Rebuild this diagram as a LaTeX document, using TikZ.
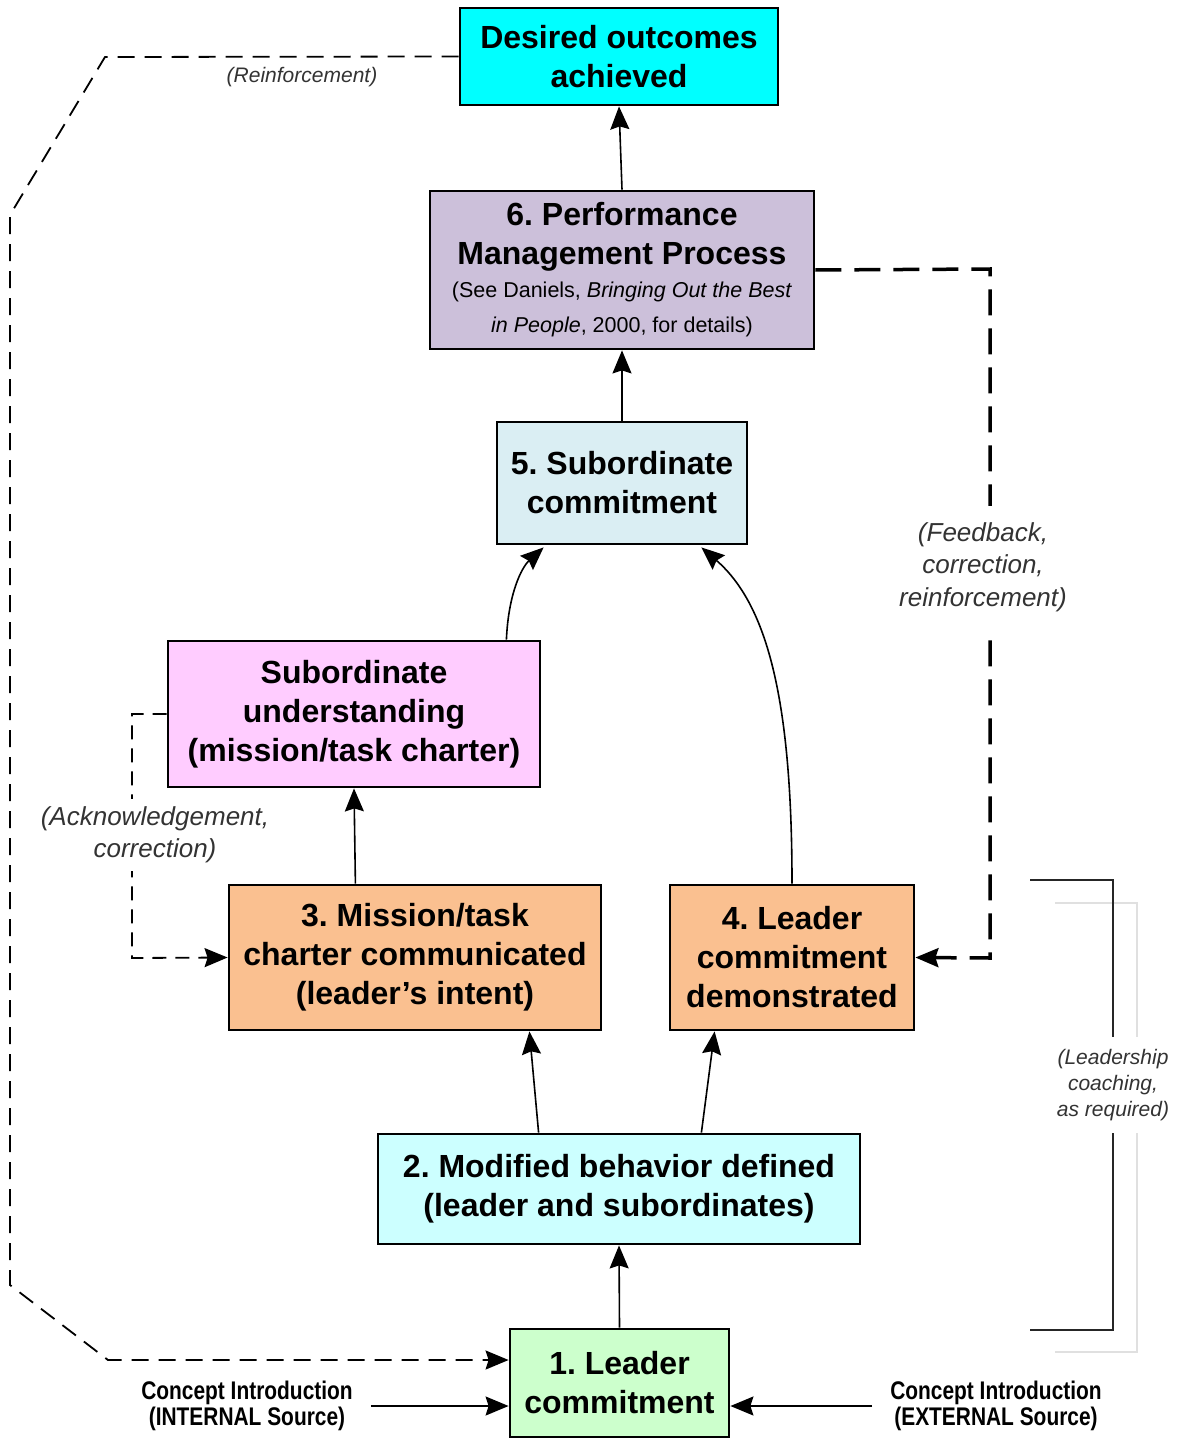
\documentclass[tikz,border=0pt]{standalone}
\usepackage{fontspec}
\setmainfont{Liberation Sans}
\newfontfamily\narrowfont[FakeStretch=0.82]{Liberation Sans}
\usetikzlibrary{arrows.meta,calc}
\definecolor{cdes}{HTML}{00FFFF}
\definecolor{csix}{HTML}{CCC0DA}
\definecolor{cfive}{HTML}{DAEEF3}
\definecolor{cund}{HTML}{FFCCFF}
\definecolor{cpeach}{HTML}{FAC090}
\definecolor{ctwo}{HTML}{CCFFFF}
\definecolor{cone}{HTML}{CCFFCC}
\frenchspacing
\begin{document}
\begin{tikzpicture}[x=1pt,y=-1pt,
  box/.style={draw=black,line width=2.8pt,inner sep=0pt,align=center,
    font=\fontsize{32}{39}\selectfont\bfseries},
  tip/.style={-{Stealth[length=23pt,width=19pt,inset=3pt]}},
  arr/.style={line width=1.6pt,tip},
  lab/.style={font=\fontsize{26}{32.5}\selectfont\itshape,align=center,text=black!80,fill=white,inner sep=2pt},
  dsh/.style={line width=1.8pt,dash pattern=on 17pt off 10pt},
  cintro/.style={font=\narrowfont\fontsize{25.5}{26}\selectfont\bfseries,align=center,inner xsep=18pt},
]
\useasboundingbox (0,0) rectangle (1178,1439);

% boxes
\node[box,fill=cdes,minimum width=318pt,minimum height=97pt] (des) at (619,56.5) {Desired outcomes\\achieved};
\node[box,fill=csix,minimum width=384pt,minimum height=158pt] (six) at (622,270)
  {6. Performance\\Management Process\\[-6pt]
   \fontsize{21.5}{35}\selectfont\mdseries (See Daniels, \textit{Bringing Out the Best}\\[-4pt]
   \fontsize{21.5}{35}\selectfont\mdseries\textit{in People}, 2000, for details)};
\node[box,fill=cfive,minimum width=250pt,minimum height=122pt] (five) at (622,483) {5. Subordinate\\commitment};
\node[box,fill=cund,minimum width=372pt,minimum height=146pt] (und) at (354,714) {Subordinate\\understanding\\(mission/task charter)};
\node[box,fill=cpeach,minimum width=372pt,minimum height=145pt] (three) at (415,957.5) {3. Mission/task\\charter communicated\\(leader’s intent)};
\node[box,fill=cpeach,minimum width=244pt,minimum height=145pt] (four) at (792,957.5) {4. Leader\\commitment\\demonstrated};
\node[box,fill=ctwo,minimum width=482pt,minimum height=110pt] (two) at (619,1189) {2. Modified behavior defined\\(leader and subordinates)};
\node[box,fill=cone,minimum width=219pt,minimum height=108pt] (one) at (619.5,1383) {1. Leader\\commitment};

% concept introduction texts
\node[cintro] (intl) at (247,1406) {Concept Introduction\\(INTERNAL Source)};
\node[cintro] (extl) at (996,1406) {Concept Introduction\\(EXTERNAL Source)};

% solid arrows
\draw[arr] (six.north) -- (des.south);
\draw[arr] (five.north) -- (six.south);
\draw[arr] ([xshift=-35pt]und.north east) .. controls ([xshift=-33pt,yshift=46pt]und.north east) and ([xshift=26pt,yshift=-22pt]five.south west) .. ([xshift=48pt,yshift=-2pt]five.south west);
\draw[arr] (four.north) .. controls ([yshift=180pt]four.north) and ([xshift=20pt,yshift=-60pt]five.south east) .. ([xshift=-47pt,yshift=-2pt]five.south east);
\draw[arr] ([xshift=-247pt]three.north east) -- (und.south);
\draw[arr] ([xshift=162pt]two.north west) -- ([xshift=-73pt]three.south east);
\draw[arr] ([xshift=-160pt]two.north east) -- ([xshift=46pt]four.south west);
\draw[arr] (one.north) -- (two.south);
\draw[arr] (intl.east) -- (intl.east -| one.west);
\draw[arr] (extl.west) -- (extl.west -| one.east);

% reinforcement loop
\coordinate (r1) at (105,57);
\coordinate (r2) at (10,215);
\coordinate (r3) at (10,1285);
\coordinate (r4) at (108,1360);
\draw[dsh,tip] (des.west) -- (r1) -- (r2) -- (r3) -- (r4) -- ([yshift=23pt]one.west);
\node[font=\fontsize{21}{24}\selectfont\itshape,text=black!80] (rlab) at (302,77) {(Reinforcement)};

% feedback loop
\coordinate (f1) at (990,269);
\coordinate (f2) at (990,958);
\draw[line width=3.5pt,dash pattern=on 26pt off 13pt,-{Stealth[length=23pt,width=19pt,inset=3pt]}] (six.east) -- (f1) -- (f2) -- (four.east);
\node[lab,inner ysep=16pt] (flab) at (983,567) {(Feedback,\\correction,\\reinforcement)};

% acknowledgement loop
\coordinate (a1) at (132,714);
\coordinate (a2) at (132,958);
\draw[line width=1.8pt,dash pattern=on 14pt off 9pt,tip] (und.west) -- (a1) -- (a2) -- (three.west);
\node[lab,inner ysep=8pt] (alab) at (155,835) {(Acknowledgement,\\correction)};

% leadership coaching bracket
\coordinate (b1) at (1055,903);
\coordinate (b2) at (1137,903);
\coordinate (b3) at (1137,1352);
\coordinate (b4) at (1055,1352);
\draw[black!12,line width=1.5pt] (b1) -- (b2) -- (b3) -- (b4);
\coordinate (c1) at (1030,880);
\coordinate (c2) at (1113,880);
\coordinate (c3) at (1113,1330);
\coordinate (c4) at (1030,1330);
\draw[black!85,line width=2pt] (c1) -- (c2) -- (c3) -- (c4);
\node[font=\fontsize{21}{26}\selectfont\itshape,align=center,text=black!80,fill=white,inner ysep=12pt,inner xsep=1pt] (llab) at (1113,1085) {(Leadership\\coaching,\\as required)};
\end{tikzpicture}
\end{document}
